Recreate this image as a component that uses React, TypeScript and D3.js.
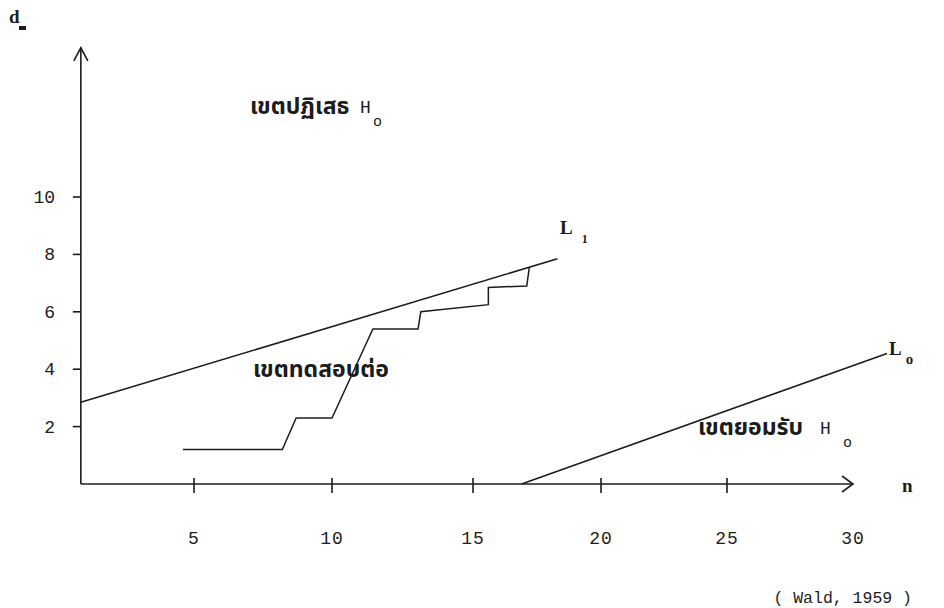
import React, { useEffect, useRef } from "react";
import * as d3 from "d3";

// axis ticks
const xTicks = [5, 10, 15, 20, 25, 30];
const yTicks = [2, 4, 6, 8, 10];

// boundary lines, end points (n, d_m)
const l1N = [0.9, 18.3];
const l1D = [2.85, 7.85];
const l0N = [16.9, 31.35];
const l0D = [0, 4.55];

// observed path of the test
const pathN = [4.6, 8.2, 8.7, 10.0, 11.45, 13.05, 13.15, 15.6, 15.6, 17.1, 17.2];
const pathD = [1.2, 1.2, 2.3, 2.3, 5.4, 5.4, 6.0, 6.25, 6.85, 6.9, 7.55];

const rejectLabel = "เขตปฏิเสธ";
const continueLabel = "เขตทดสอบต่อ";
const acceptLabel = "เขตยอมรับ";
const sourceLabel = "( Wald, 1959 )";

const INK = "#1c1c1c";
const MONO = "'Liberation Mono', 'DejaVu Sans Mono', monospace";
const THAI = "'Noto Sans Thai', 'Noto Sans', 'DejaVu Sans', sans-serif";
const SERIF = "'Liberation Serif', 'DejaVu Serif', serif";

const App = () => {
  const svgRef = useRef<SVGSVGElement>(null);

  useEffect(() => {
    const svg = d3.select(svgRef.current);
    svg.selectAll("*").remove();

    // the hand drawn axis is not evenly spaced, so a polylinear scale
    const x = d3.scaleLinear().domain(xTicks).range([194, 332, 473, 601, 727, 853]);
    const y = d3.scaleLinear().domain([0, 10]).range([484, 197]);
    const n0 = 0.9;
    const dTop = 15.2;

    const g = svg.append("g").attr("stroke", INK).attr("stroke-width", 1.6).attr("fill", "none");

    // y axis + arrow
    g.append("line")
      .attr("x1", x(n0)).attr("x2", x(n0))
      .attr("y1", y(0)).attr("y2", y(dTop));
    g.append("path").attr("d", `M${x(n0) - 7},${y(dTop) + 13}L${x(n0)},${y(dTop)}L${x(n0) + 7},${y(dTop) + 13}`);

    // x axis + arrow
    g.append("line")
      .attr("x1", x(n0)).attr("x2", x(30))
      .attr("y1", y(0)).attr("y2", y(0));
    g.append("path").attr("d", `M${x(30) - 11},${y(0) - 8}L${x(30)},${y(0)}L${x(30) - 11},${y(0) + 8}`);

    g.selectAll(".yt").data(yTicks).join("line")
      .attr("x1", x(n0) - 8).attr("x2", x(n0))
      .attr("y1", (d) => y(d)).attr("y2", (d) => y(d));
    g.selectAll(".xt").data(xTicks.slice(0, -1)).join("line")
      .attr("x1", (d) => x(d)).attr("x2", (d) => x(d))
      .attr("y1", y(0) - 6).attr("y2", y(0) + 9);

    const seg = (ns: number[], ds: number[]) =>
      d3.line<number>().x((n) => x(n)).y((_, i) => y(ds[i]))(ns);

    g.append("path").attr("d", seg(l1N, l1D));
    g.append("path").attr("d", seg(l0N, l0D));
    g.append("path").attr("d", seg(pathN, pathD)).attr("stroke-width", 1.5);

    const t = svg.append("g").attr("fill", INK);

    t.selectAll(".ytl").data(yTicks).join("text")
      .attr("x", 55).attr("y", (d) => y(d) + 6)
      .attr("text-anchor", "end")
      .attr("font-family", MONO).attr("font-size", 18)
      .text((d) => d);
    t.selectAll(".xtl").data(xTicks).join("text")
      .attr("x", (d) => x(d)).attr("y", 544)
      .attr("text-anchor", "middle")
      .attr("font-family", MONO).attr("font-size", 18).attr("letter-spacing", 1)
      .text((d) => d);

    // axis names
    t.append("text").attr("x", 9).attr("y", 23)
      .attr("font-family", SERIF).attr("font-weight", "bold").attr("font-size", 19).text("d");
    t.append("rect").attr("x", 19).attr("y", 26).attr("width", 7).attr("height", 4);
    t.append("text").attr("x", 902).attr("y", 492)
      .attr("font-family", SERIF).attr("font-weight", "bold").attr("font-size", 19).text("n");

    const hLabel = (px: number, py: number, subX: number) => {
      t.append("text").attr("x", px).attr("y", py)
        .attr("font-family", MONO).attr("font-size", 18).text("H");
      t.append("text").attr("x", subX).attr("y", py + 13)
        .attr("font-family", MONO).attr("font-size", 15).text("o");
    };
    const region = (label: string, px: number, py: number) => {
      t.append("text").attr("x", px).attr("y", py)
        .attr("font-family", THAI).attr("font-weight", "bold").attr("font-size", 23)
        .text(label);
    };
    region(rejectLabel, 250, 114);
    hLabel(360, 113, 373);
    region(continueLabel, 253, 377);
    region(acceptLabel, 698, 435);
    hLabel(820, 434, 843);

    // line names
    const lName = (sub: string, px: number, py: number, gap: number, size: number) => {
      const el = t.append("text").attr("x", px).attr("y", py).attr("font-family", SERIF).attr("font-weight", "bold");
      el.append("tspan").attr("font-size", 19).text("L");
      el.append("tspan").attr("font-size", size).attr("dx", gap).attr("dy", 9).text(sub);
    };
    lName("1", 560, 234, 9, 12);
    lName("o", 889, 355, 4, 15);

    t.append("text").attr("x", 912).attr("y", 603)
      .attr("text-anchor", "end")
      .attr("font-family", MONO).attr("font-size", 16.5)
      .text(sourceLabel);
  }, []);

  return (
    <svg
      ref={svgRef}
      width={944}
      height={608}
      style={{ position: "absolute", left: 0, top: 0, background: "#fff" }}
    />
  );
};

export default App;
